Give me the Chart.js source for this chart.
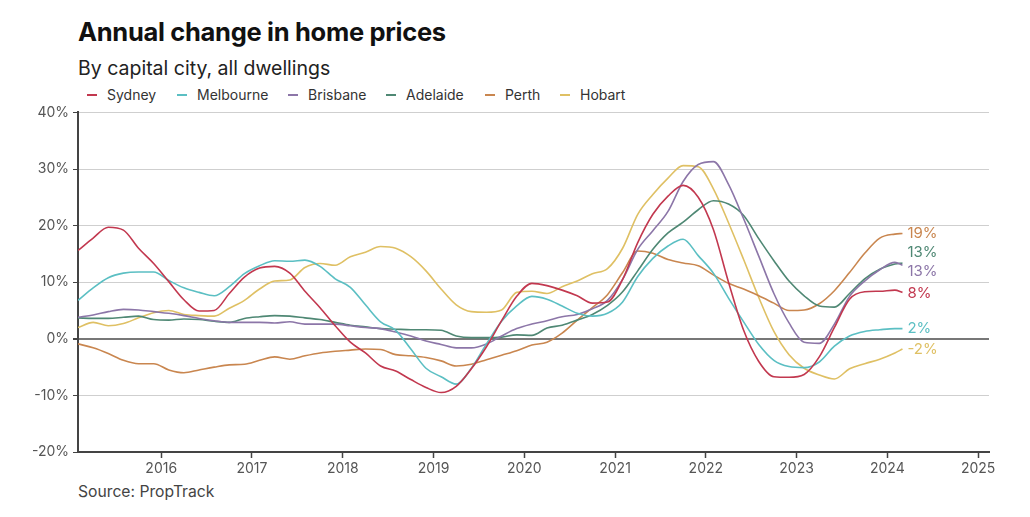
<!DOCTYPE html>
<html>
<head>
<meta charset="utf-8">
<script src="https://cdn.jsdelivr.net/npm/chart.js@4.4.1/dist/chart.umd.min.js"></script>
<style>
  html, body { margin: 0; padding: 0; background: #fff; }
  body { width: 1030px; height: 517px; position: relative; overflow: hidden; font-family: Inter, "Noto Sans", sans-serif; }
  #title { position: absolute; left: 78px; top: 16px; font-size: 25.5px; font-weight: 700; color: #111; letter-spacing: -0.3px; white-space: nowrap; }
  #subtitle { position: absolute; left: 78px; top: 56px; font-size: 19.5px; font-weight: 400; color: #222; white-space: nowrap; }
  .lg { position: absolute; top: 86px; font-size: 14px; color: #333; white-space: nowrap; line-height: 18px; }
  .lg i { position: absolute; left: -20px; top: 8px; width: 10px; height: 2px; }
  #source { position: absolute; left: 78px; top: 482px; font-size: 15.7px; color: #444; white-space: nowrap; }
  #wrap { position: absolute; left: 0; top: 100px; width: 1030px; height: 380px; }
</style>
</head>
<body>
<div id="title">Annual change in home prices</div>
<div id="subtitle">By capital city, all dwellings</div>
<div id="legend"></div>
<div id="wrap"><canvas id="c" width="1030" height="380"></canvas></div>
<div id="source">Source: PropTrack</div>
<script>
const months = ['2015-02','2015-04','2015-06','2015-08','2015-10','2015-12',
  '2016-02','2016-04','2016-06','2016-08','2016-10','2016-12',
  '2017-02','2017-04','2017-06','2017-08','2017-10','2017-12',
  '2018-02','2018-04','2018-06','2018-08','2018-10','2018-12',
  '2019-02','2019-04','2019-06','2019-08','2019-10','2019-12',
  '2020-02','2020-04','2020-06','2020-08','2020-10','2020-12',
  '2021-02','2021-04','2021-06','2021-08','2021-10','2021-12',
  '2022-02','2022-04','2022-06','2022-08','2022-10','2022-12',
  '2023-02','2023-04','2023-06','2023-08','2023-10','2023-12',
  '2024-02','2024-03'];

const cities = ['Sydney','Melbourne','Brisbane','Adelaide','Perth','Hobart'];

const sydney = [15.6,17.8,19.7,19.2,16.0,13.3,10.1,6.9,4.9,5.0,8.0,10.9,12.5,12.8,11.6,8.4,5.5,2.3,-0.6,-2.5,-4.8,-5.7,-7.2,-8.6,-9.5,-8.4,-5.3,-1.4,3.2,7.5,9.8,9.4,8.6,7.6,6.3,6.5,10.5,17.0,22.0,25.2,27.1,25.0,19.3,10.0,1.5,-4.0,-6.7,-6.8,-6.3,-3.2,2.0,7.0,8.3,8.4,8.6,8.2];
const melbourne = [6.8,9.0,10.8,11.6,11.8,11.8,10.3,9.0,8.2,7.6,9.2,11.5,12.9,13.8,13.7,13.9,12.8,10.6,9.1,6.0,3.0,1.5,-1.8,-5.2,-6.7,-8.0,-5.2,-0.9,3.1,5.8,7.5,7.0,5.8,4.5,4.0,4.5,6.5,11.0,14.2,16.4,17.6,14.7,11.6,7.2,3.0,-1.0,-3.8,-4.9,-5.1,-4.1,-1.3,0.5,1.3,1.6,1.8,1.8];
const brisbane = [3.8,4.2,4.8,5.2,5.1,4.8,4.5,4.1,3.6,3.2,2.9,2.9,2.9,2.8,3.0,2.6,2.6,2.6,2.3,2.0,1.8,1.2,0.5,-0.4,-1.0,-1.6,-1.6,-0.9,0.5,1.8,2.6,3.2,3.9,4.3,5.3,6.8,10.5,15.8,19.1,22.5,27.8,30.8,31.3,27.3,21.2,14.6,8.0,2.8,-0.6,-0.8,2.6,7.5,10.2,12.2,13.5,13.0];
const adelaide = [3.7,3.6,3.6,3.8,4.0,3.4,3.3,3.5,3.4,3.1,2.9,3.6,3.9,4.1,4.0,3.7,3.4,2.9,2.4,2.1,1.8,1.7,1.6,1.6,1.5,0.5,0.2,0.2,0.3,0.7,0.6,1.9,2.4,3.3,4.3,5.9,8.3,12.0,15.8,18.7,20.6,22.8,24.4,23.8,21.8,17.7,13.8,10.2,7.6,5.8,5.6,8.0,10.6,12.3,13.2,13.4];
const perth = [-0.9,-1.6,-2.6,-3.8,-4.4,-4.4,-5.5,-6.0,-5.5,-5.0,-4.6,-4.5,-3.8,-3.2,-3.6,-3.0,-2.5,-2.2,-2.0,-1.8,-1.9,-2.8,-3.0,-3.3,-3.9,-4.8,-4.5,-3.7,-2.9,-2.1,-1.1,-0.6,1.0,3.3,5.5,7.8,11.7,15.5,15.1,14.0,13.4,12.9,11.3,9.8,8.8,7.6,6.3,5.0,5.1,6.2,8.5,11.7,15.1,17.8,18.5,18.6];
const hobart = [2.0,2.9,2.3,2.7,3.7,4.6,5.0,4.3,4.1,4.0,5.4,6.8,8.8,10.2,10.4,12.6,13.3,13.0,14.5,15.3,16.3,16.0,14.5,12.0,8.8,6.0,4.8,4.7,5.1,8.2,8.4,8.0,9.2,10.2,11.5,12.4,16.0,22.0,25.5,28.4,30.6,30.4,26.5,20.5,14.0,7.3,1.3,-2.8,-5.2,-6.4,-7.1,-5.3,-4.4,-3.6,-2.5,-1.8];

const yearTicks = [2016,2017,2018,2019,2020,2021,2022,2023,2024,2025];
const yTicks = [-20,-10,0,10,20,30,40];

const seriesValues = [sydney, melbourne, brisbane, adelaide, perth, hobart];
const colors = ['#c2384f','#5bbfc3','#8c76a8','#4f8874','#c9864f','#dfc064'];
const labelOffsets = [1, 0, 6, -10, 0, 0];
const legendX = [107, 197, 308, 406, 505, 580];

// HTML legend
const lgWrap = document.getElementById('legend');
cities.forEach((c, i) => {
  const d = document.createElement('div');
  d.className = 'lg';
  d.style.left = legendX[i] + 'px';
  d.innerHTML = '<i style="background:' + colors[i] + '"></i>' + c;
  lgWrap.appendChild(d);
});

function toYear(m) {
  const [y, mo] = m.split('-').map(Number);
  return y + (mo - 1) / 12;
}

const datasets = cities.map((c, i) => ({
  label: c,
  data: months.map((m, j) => ({ x: toYear(m), y: seriesValues[i][j] })),
  borderColor: colors[i],
  backgroundColor: colors[i],
  borderWidth: 1.6,
  pointRadius: 0,
  cubicInterpolationMode: 'monotone',
  fill: false
}));

const endLabels = {
  id: 'endLabels',
  afterDatasetsDraw(chart) {
    const ctx = chart.ctx;
    ctx.save();
    ctx.font = '15px Inter, "Noto Sans", sans-serif';
    ctx.textBaseline = 'middle';
    ctx.textAlign = 'left';
    chart.data.datasets.forEach((ds, i) => {
      const meta = chart.getDatasetMeta(i);
      const pt = meta.data[meta.data.length - 1];
      const v = seriesValues[i][seriesValues[i].length - 1];
      ctx.fillStyle = colors[i];
      ctx.fillText(Math.round(v) + '%', pt.x + 5, pt.y + labelOffsets[i]);
    });
    ctx.restore();
  }
};

new Chart(document.getElementById('c'), {
  type: 'line',
  data: { datasets },
  plugins: [endLabels],
  options: {
    responsive: false,
    animation: false,
    layout: { padding: { top: 10, right: 41, left: 0, bottom: 0 } },
    plugins: { legend: { display: false }, tooltip: { enabled: false } },
    scales: {
      x: {
        type: 'linear',
        min: 2015.083,
        max: 2025.12,
        afterBuildTicks(scale) { scale.ticks = yearTicks.map(v => ({ value: v })); },
        afterFit(scale) { scale.height = 28; },
        grid: { drawOnChartArea: false, drawTicks: true, tickLength: 6, tickColor: '#444', tickWidth: 1.5 },
        border: { display: true, color: '#444', width: 2 },
        ticks: { padding: 2, color: '#555', font: { family: 'Inter, "Noto Sans", sans-serif', size: 14 }, callback: v => String(v), maxRotation: 0, autoSkip: false }
      },
      y: {
        min: -20,
        max: 40,
        afterBuildTicks(scale) { scale.ticks = yTicks.map(v => ({ value: v })); },
        afterFit(scale) { scale.width = 78; },
        grid: {
          color: ctx => ctx.tick && ctx.tick.value === 0 ? '#777' : '#cfcfcf',
          lineWidth: ctx => ctx.tick && ctx.tick.value === 0 ? 2 : 1,
          drawTicks: true, tickLength: 5, tickColor: '#444'
        },
        border: { display: true, color: '#444', width: 2 },
        ticks: { padding: 4, color: '#555', font: { family: 'Inter, "Noto Sans", sans-serif', size: 14 }, callback: v => v + '%' }
      }
    }
  }
});
</script>
</body>
</html>
